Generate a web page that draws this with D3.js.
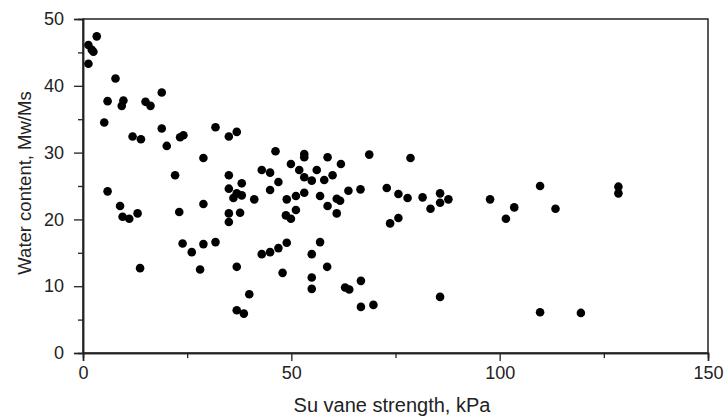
<!DOCTYPE html>
<html><head><meta charset="utf-8">
<script src="https://cdn.jsdelivr.net/npm/d3@7"></script>
<style>body{margin:0;background:#fff}svg{display:block}text{font-family:"Liberation Sans",Arial,sans-serif;fill:#222}</style>
</head><body><svg id="c" width="725" height="416"></svg>
<script>
const suVane = [3.3,1.3,2.1,2.5,1.3,7.8,5.9,9.7,9.3,15.0,16.2,18.9,5.1,18.9,11.9,13.9,20.1,23.3,24.1,31.8,35.0,36.9,28.9,5.9,22.1,35.0,35.0,8.9,9.5,11.1,13.1,13.7,23.1,28.9,23.9,26.1,28.9,31.8,28.1,36.9,36.1,35.0,35.0,37.7,36.9,36.9,46.2,53.1,53.1,58.7,68.7,61.9,49.9,42.9,44.9,51.9,56.1,53.1,54.9,57.9,59.9,38.1,46.9,44.9,38.1,41.1,48.9,51.1,53.1,56.9,60.9,61.7,63.7,66.6,72.9,75.7,75.7,73.7,58.7,51.1,48.7,49.9,60.9,48.9,46.9,44.9,42.9,56.9,54.9,47.9,54.9,54.9,58.6,39.9,38.6,62.9,63.9,66.7,66.7,69.7,78.6,77.9,81.5,85.7,85.7,87.7,83.4,97.7,103.5,101.5,109.7,113.4,128.5,128.5,85.7,109.7,119.5];
const waterContent = [47.4,46.1,45.4,45.1,43.3,41.1,37.7,37.8,37.0,37.6,37.0,39.0,34.5,33.6,32.4,32.0,31.0,32.3,32.6,33.8,32.4,33.1,29.2,24.2,26.6,26.6,24.6,22.0,20.4,20.1,20.9,12.7,21.1,22.3,16.4,15.1,16.3,16.6,12.5,23.9,23.2,20.9,19.6,21.0,12.9,6.4,30.2,29.8,29.3,29.3,29.7,28.3,28.3,27.4,27.0,27.4,27.4,26.3,25.8,25.9,26.6,25.4,25.6,24.4,23.6,23.0,23.0,23.5,24.0,23.5,23.1,22.8,24.3,24.5,24.7,23.8,20.2,19.4,22.0,21.4,20.6,20.1,20.9,16.5,15.7,15.1,14.8,16.6,14.8,12.0,11.3,9.6,12.9,8.8,5.9,9.8,9.5,10.8,6.9,7.2,29.2,23.2,23.3,23.9,22.5,23.0,21.6,23.0,21.8,20.1,25.0,21.6,24.9,23.9,8.4,6.1,6.0];
const xTicks = [0,50,100,150];
const yTicks = [0,10,20,30,40,50];
const xLabel = "Su vane strength, kPa";
const yLabel = "Water content, Mw/Ms";

const svg = d3.select("#c");
const L=83, R=708, T=19, B=353;
const x = d3.scaleLinear().domain([0,150]).range([L,R]);
const y = d3.scaleLinear().domain([0,50]).range([B,T]);

// frame
svg.append("rect").attr("x",L).attr("y",T).attr("width",R-L).attr("height",B-T)
  .attr("fill","none").attr("stroke","#222").attr("stroke-width",1.5);

// x axis
const gx = svg.append("g").attr("transform",`translate(0,${B})`)
  .call(d3.axisBottom(x).tickValues(xTicks).tickSize(8).tickPadding(5).tickFormat(d3.format("d")));
gx.append("g").call(d3.axisBottom(x).tickValues([25,75,125]).tickSize(5).tickFormat(""));
// y axis
const gy = svg.append("g").attr("transform",`translate(${L},0)`)
  .call(d3.axisLeft(y).tickValues(yTicks).tickSize(9).tickPadding(10).tickFormat(d3.format("d")));
gy.append("g").call(d3.axisLeft(y).tickValues([5,15,25,35,45]).tickSize(5).tickFormat(""));
svg.selectAll(".domain").attr("stroke","#222").attr("stroke-width",1.5);
svg.selectAll(".tick line").attr("stroke","#222").attr("stroke-width",1.3);
svg.selectAll(".tick text").style("font-size","18px").attr("fill","#333");

// labels
svg.append("text").attr("x",392).attr("y",412).attr("text-anchor","middle")
  .style("font-size","20px").text(xLabel);
svg.append("text").attr("transform",`translate(31,183) rotate(-90)`).attr("text-anchor","middle")
  .style("font-size","18.5px").text(yLabel);

// points
svg.append("g").selectAll("circle").data(suVane.map((v,i)=>[v,waterContent[i]])).join("circle")
  .attr("cx",d=>x(d[0])).attr("cy",d=>y(d[1])).attr("r",4.3).attr("fill","#000");
</script></body></html>
